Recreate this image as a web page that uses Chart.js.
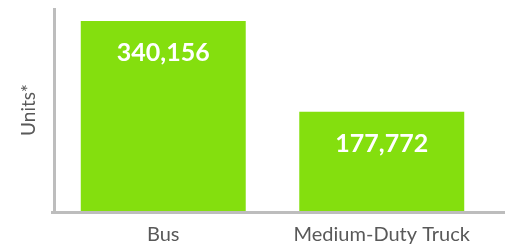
<!DOCTYPE html>
<html>
<head>
<meta charset="utf-8">
<script src="https://cdn.jsdelivr.net/npm/chart.js@4"></script>
<style>
  html, body { margin: 0; padding: 0; background: #fff; }
  #wrap { width: 509px; height: 244px; }
</style>
</head>
<body>
<div id="wrap"><canvas id="barChart"></canvas></div>
<script>
var categories = ['Bus', 'Medium-Duty Truck'];
var units = [340156, 177772];
var axisTitle = 'Units*';

var green = '#84DF0E';
var axisGrey = '#BDBDBD';
var textGrey = '#595959';

// value labels inside the top of each bar
var valueLabels = {
    id: 'valueLabels',
    afterDatasetsDraw: function (chart) {
        var ctx = chart.ctx;
        var meta = chart.getDatasetMeta(0);
        ctx.save();
        ctx.fillStyle = '#ffffff';
        ctx.font = 'bold 25px Lato';
        ctx.textAlign = 'center';
        ctx.textBaseline = 'middle';
        meta.data.forEach(function (bar, i) {
            ctx.fillText(units[i].toLocaleString('en-US'), bar.x, bar.y + 32);
        });
        ctx.restore();
    }
};

// the baseline runs a little past the last bar
var longBaseline = {
    id: 'longBaseline',
    afterDraw: function (chart) {
        var ctx = chart.ctx;
        var a = chart.chartArea;
        ctx.save();
        ctx.strokeStyle = axisGrey;
        ctx.lineWidth = 3;
        ctx.beginPath();
        ctx.moveTo(a.left - 3, a.bottom + 1.5);
        ctx.lineTo(505, a.bottom + 1.5);
        ctx.stroke();
        ctx.restore();
    }
};

var barChart = new Chart(document.getElementById('barChart').getContext('2d'), {
    type: 'bar',
    data: {
        labels: categories,
        datasets: [{
            data: units,
            backgroundColor: green,
            barPercentage: 0.755,
            categoryPercentage: 1
        }]
    },
    options: {
        responsive: true,
        maintainAspectRatio: false,
        animation: false,
        layout: { padding: { left: 17, top: 9, right: 18, bottom: 0 } },
        plugins: {
            legend: { display: false },
            tooltip: { enabled: false }
        },
        scales: {
            x: {
                grid: { display: false },
                border: { display: false },
                ticks: { color: textGrey, font: { family: 'Lato', size: 20 }, padding: 4 },
                afterFit: function (s) { s.height = 33; }
            },
            y: {
                min: 0,
                max: 361500,
                grid: { display: false },
                border: { color: axisGrey, width: 3 },
                ticks: { display: false },
                title: {
                    display: true,
                    text: axisTitle,
                    color: textGrey,
                    font: { family: 'Lato', size: 19 },
                    padding: 0
                },
                afterFit: function (s) { s.width = 37; }
            }
        }
    },
    plugins: [valueLabels, longBaseline]
});
</script>
</body>
</html>
